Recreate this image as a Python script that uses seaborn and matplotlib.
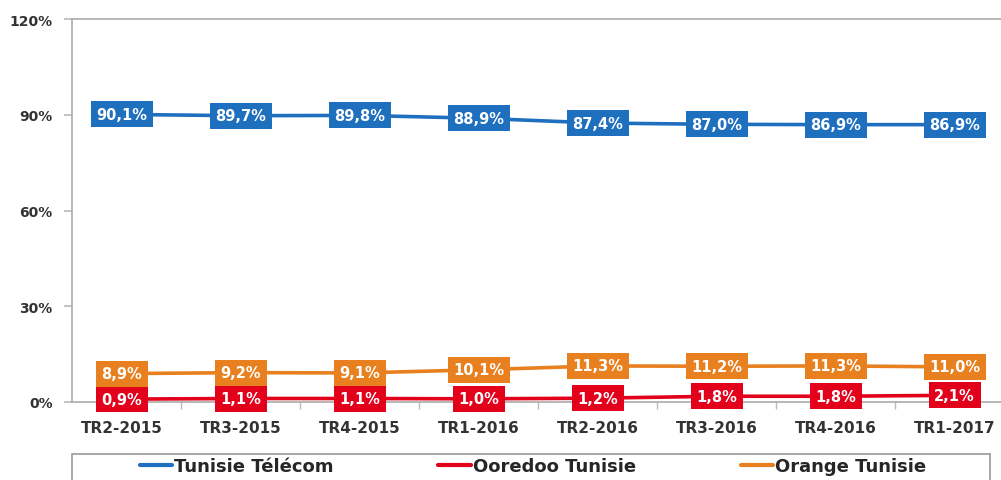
import matplotlib
matplotlib.use("Agg")
import matplotlib.pyplot as plt
import seaborn as sns
import pandas as pd
from matplotlib.ticker import FuncFormatter, FixedLocator
from matplotlib.lines import Line2D
from matplotlib.patches import Rectangle

categories = ["TR2-2015", "TR3-2015", "TR4-2015", "TR1-2016", "TR2-2016", "TR3-2016", "TR4-2016", "TR1-2017"]
tunisie_telecom = [90.1, 89.7, 89.8, 88.9, 87.4, 87.0, 86.9, 86.9]
ooredoo = [0.9, 1.1, 1.1, 1.0, 1.2, 1.8, 1.8, 2.1]
orange = [8.9, 9.2, 9.1, 10.1, 11.3, 11.2, 11.3, 11.0]
series_names = ["Tunisie Télécom", "Ooredoo Tunisie", "Orange Tunisie"]
colors = ["#1F6FBF", "#E2001A", "#E8801F"]

sns.set_theme(style="white")
plt.rcParams['font.family'] = ['DejaVu Sans']

rows = []
for name, vals in zip(series_names, [tunisie_telecom, ooredoo, orange]):
    for i, (c, v) in enumerate(zip(categories, vals)):
        rows.append({"pos": i, "cat": c, "val": v / 100.0, "series": name})
df = pd.DataFrame(rows)

fig = plt.figure(figsize=(10.01, 4.81), dpi=100)
ax = fig.add_axes([72/1001, 78/481, 1 - 72/1001, 383/481])

sns.lineplot(data=df, x="pos", y="val", hue="series", hue_order=series_names,
             palette=colors, linewidth=2.6, ax=ax, legend=False)

for name, vals, col in zip(series_names, [tunisie_telecom, ooredoo, orange], colors):
    for i, v in enumerate(vals):
        ax.text(i, v / 100.0, f"{v:.1f}%".replace(".", ","), ha="center", va="center",
                color="white", fontsize=10.5, fontweight="bold", clip_on=False, zorder=5,
                bbox=dict(boxstyle="square,pad=0.38", facecolor=col, edgecolor="none"))

ax.set_xlim(-0.42, 7.39)
ax.set_ylim(0, 1.2)
ax.set_yticks([0, 0.3, 0.6, 0.9, 1.2])
ax.yaxis.set_major_formatter(FuncFormatter(lambda y, p: f"{round(y*100)}%"))
ax.set_xticks(range(len(categories)))
ax.set_xticklabels(categories)
ax.xaxis.set_minor_locator(FixedLocator([i + 0.5 for i in range(len(categories) - 1)]))
ax.set_xlabel("")
ax.set_ylabel("")
for lab in ax.get_xticklabels() + ax.get_yticklabels():
    lab.set_fontweight("bold")
    lab.set_color("#333333")
ax.tick_params(axis="x", which="major", labelsize=11, length=0, pad=13)
ax.tick_params(axis="x", which="minor", length=5, color="#BBBBBB", bottom=True)
ax.tick_params(axis="y", labelsize=10, length=6, color="#BBBBBB", left=True, pad=8)
for s in ["left", "top", "bottom"]:
    ax.spines[s].set_visible(True)
    ax.spines[s].set_color("#AAAAAA")
    ax.spines[s].set_linewidth(1.2)
ax.spines["right"].set_visible(False)
ax.grid(False)

# legend frame
fig.patches.append(Rectangle((72/1001, -10/481), 918/1001, 36/481, transform=fig.transFigure,
                             facecolor="white", edgecolor="#999999", linewidth=1.2))
handles = [Line2D([0], [0], color=c, lw=3) for c in colors]
leg = fig.legend(handles, series_names, loc="center", ncol=3,
                 bbox_to_anchor=(533/1001, 14/481),
                 frameon=False, handlelength=1.8, handletextpad=0.1,
                 prop=dict(weight="bold", size=13), borderpad=0.0, columnspacing=5.8)

fig.savefig("out.png", dpi=100)
